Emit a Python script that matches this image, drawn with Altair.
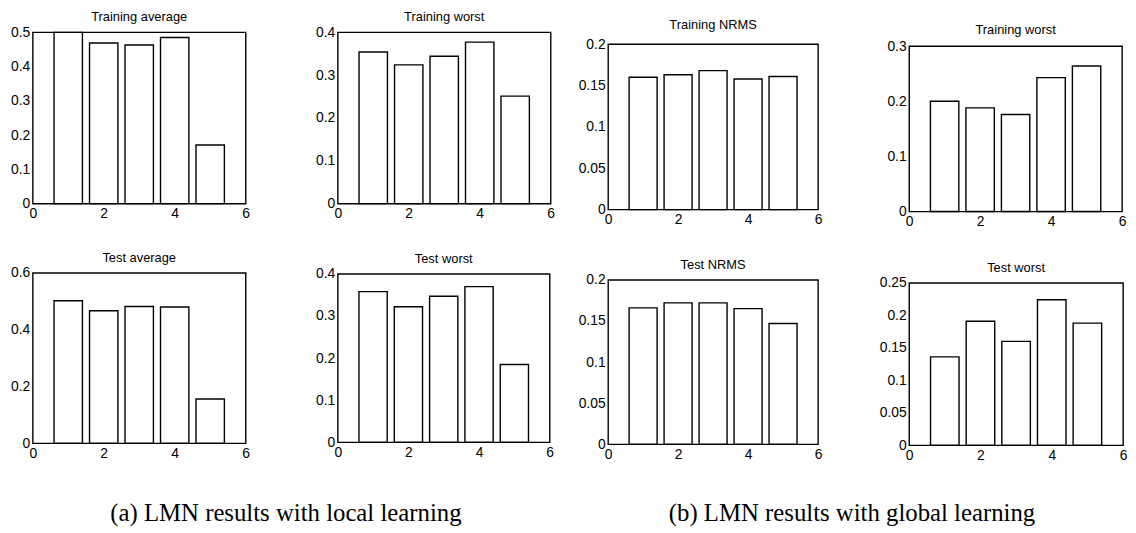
import altair as alt
import pandas as pd

# ---- data ----
positions = [1, 2, 3, 4, 5]
x_ticks = [0, 2, 4, 6]

train_avg_local = [0.500, 0.469, 0.463, 0.485, 0.171]
train_worst_local = [0.354, 0.324, 0.344, 0.377, 0.251]
train_nrms_global = [0.160, 0.163, 0.168, 0.158, 0.161]
train_worst_global = [0.200, 0.188, 0.176, 0.243, 0.264]
test_avg_local = [0.502, 0.467, 0.482, 0.480, 0.156]
test_worst_local = [0.358, 0.322, 0.347, 0.370, 0.185]
test_nrms_global = [0.166, 0.172, 0.172, 0.165, 0.147]
test_worst_global = [0.136, 0.191, 0.160, 0.224, 0.188]

titles = ["Training average", "Training worst", "Training NRMS", "Training worst",
          "Test average", "Test worst", "Test NRMS", "Test worst"]
y_ticks_05 = [0, 0.1, 0.2, 0.3, 0.4, 0.5]
y_ticks_04 = [0, 0.1, 0.2, 0.3, 0.4]
y_ticks_02 = [0, 0.05, 0.1, 0.15, 0.2]
y_ticks_03 = [0, 0.1, 0.2, 0.3]
y_ticks_06 = [0, 0.2, 0.4, 0.6]
y_ticks_025 = [0, 0.05, 0.1, 0.15, 0.2, 0.25]

captions = ["(a) LMN results with local learning", "(b) LMN results with global learning"]

SANS = "Liberation Sans"
SERIF = "Liberation Serif"


def title_params(text, offset=1):
    return alt.TitleParams(text=text, font=SANS, fontSize=13, fontWeight="normal",
                           color="black", offset=offset, anchor="middle")


def panel(title, values, yticks, width, height, y_ext):
    df = pd.DataFrame({"pos": positions, "value": values})
    ch = (
        alt.Chart(df)
        .transform_calculate(x0="datum.pos - 0.4", x1="datum.pos + 0.4")
        .mark_bar(fill="white", stroke="black", strokeWidth=1.4)
        .encode(
            x=alt.X("x0:Q", scale=alt.Scale(domain=[0, 6], nice=False, zero=False),
                    axis=alt.Axis(values=x_ticks, title=None, ticks=False, tickSize=0,
                                  domain=False, labelPadding=3, labelFlush=False,
                                  minExtent=18, grid=False, format="~g")),
            x2="x1:Q",
            y=alt.Y("value:Q", scale=alt.Scale(domain=[0, yticks[-1]], nice=False),
                    axis=alt.Axis(values=yticks, title=None, ticks=False, tickSize=0,
                                  domain=False, labelPadding=3, labelFlush=False,
                                  labelOverlap=False, minExtent=y_ext, grid=False,
                                  format="~g")),
            y2=alt.datum(0),
        )
        .properties(width=width, height=height)
    )
    if title is not None:
        ch = ch.properties(title=title_params(title))
    return ch


def spacer(title, width, offset):
    return (
        alt.Chart(pd.DataFrame({"a": [0]}))
        .mark_point(opacity=0)
        .properties(width=width, height=1, title=title_params(title, offset),
                    view=alt.ViewBackground(strokeOpacity=0))
    )


p1 = panel(titles[0], train_avg_local, y_ticks_05, 215, 173, 24)
p2 = panel(titles[1], train_worst_local, y_ticks_04, 215, 173, 24)
p3 = panel(None, train_nrms_global, y_ticks_02, 212, 167, 31)
p4 = panel(None, train_worst_global, y_ticks_03, 215, 167, 31)
p5 = panel(titles[4], test_avg_local, y_ticks_06, 215, 172, 24)
p6 = panel(titles[5], test_worst_local, y_ticks_04, 214, 170, 24)
p7 = panel(titles[6], test_nrms_global, y_ticks_02, 212, 166, 31)
p8 = panel(titles[7], test_worst_global, y_ticks_025, 216, 164, 31)

col1 = alt.vconcat(p1, p5, spacing=29)
col2 = alt.vconcat(p2, p6, spacing=30)
col3 = alt.vconcat(spacer(titles[2], 212, -2),
                   alt.vconcat(p3, p7, spacing=30), spacing=0)
col4 = alt.vconcat(spacer(titles[3], 215, -7),
                   alt.vconcat(p4, p8, spacing=31), spacing=1)

left = alt.hconcat(col1, col2, spacing=63).properties(
    title=alt.TitleParams(captions[0], orient="bottom", anchor="start", frame="bounds",
                          dx=103, offset=40, font=SERIF, fontSize=25,
                          fontWeight="normal", color="black"))
right = alt.hconcat(col3, col4, spacing=55).properties(
    title=alt.TitleParams(captions[1], orient="bottom", anchor="start", frame="bounds",
                          dx=93, offset=38, font=SERIF, fontSize=25,
                          fontWeight="normal", color="black"))

chart = (
    alt.hconcat(left, right, spacing=21)
    .properties(padding=0, background="white")
    .configure_view(stroke="black", strokeWidth=1.4)
    .configure_axis(labelFont=SANS, labelFontSize=14, labelColor="black")
    .configure_concat(spacing=10)
)

chart.save("out.html", embed_options={"renderer": "svg", "actions": False})
